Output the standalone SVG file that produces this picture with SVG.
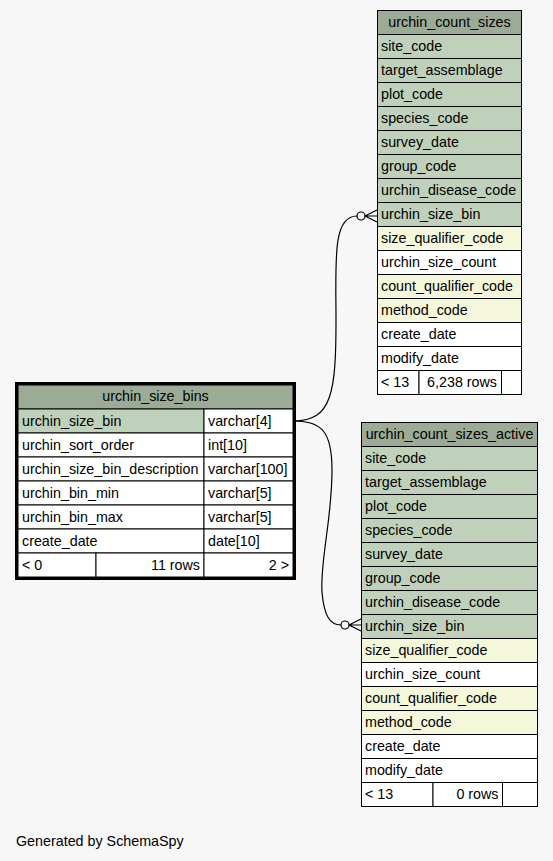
<svg xmlns="http://www.w3.org/2000/svg" width="553" height="861" viewBox="0 0 553 861">
<style>
text{font-family:"Liberation Sans",Arial,Helvetica,sans-serif;font-size:14.3px;fill:#000}
.c{stroke:#000;stroke-width:1}
.h{fill:#9bab96}
.k{fill:#bfd1bb}
.y{fill:#f4f7da}
.w{fill:#ffffff}
.m{text-anchor:middle}
.r{text-anchor:end}
.e{fill:none;stroke:#000;stroke-width:1.2}
</style>
<rect x="0" y="0" width="553" height="861" fill="#f7f7f7"/>
<g id="connectors">
<path class="e" d="M294,421 C332,421 336,392 336,320 C336,262 332,216 357,216"/>
<circle class="e" cx="361" cy="216" r="4" fill="#fff"/>
<path class="e" d="M365,216 L377,210 M365,216 L377,216 M365,216 L377,222"/>
<path class="e" d="M294,421 C322,421 332,432 332,470 C332,520 320,560 322,592 C324,616 330,625 341,625"/>
<circle class="e" cx="345" cy="625" r="4" fill="#fff"/>
<path class="e" d="M349,625 L361,619 M349,625 L361,625 M349,625 L361,631"/>
</g>
<g id="urchin_count_sizes">
<rect class="c h" x="377.5" y="10.5" width="144" height="24"/>
<text class="m" x="449.5" y="27">urchin_count_sizes</text>
<rect class="c k" x="377.5" y="34.5" width="144" height="24"/><text x="381" y="51">site_code</text>
<rect class="c k" x="377.5" y="58.5" width="144" height="24"/><text x="381" y="75">target_assemblage</text>
<rect class="c k" x="377.5" y="82.5" width="144" height="24"/><text x="381" y="99">plot_code</text>
<rect class="c k" x="377.5" y="106.5" width="144" height="24"/><text x="381" y="123">species_code</text>
<rect class="c k" x="377.5" y="130.5" width="144" height="24"/><text x="381" y="147">survey_date</text>
<rect class="c k" x="377.5" y="154.5" width="144" height="24"/><text x="381" y="171">group_code</text>
<rect class="c k" x="377.5" y="178.5" width="144" height="24"/><text x="381" y="195">urchin_disease_code</text>
<rect class="c k" x="377.5" y="202.5" width="144" height="24"/><text x="381" y="219">urchin_size_bin</text>
<rect class="c y" x="377.5" y="226.5" width="144" height="24"/><text x="381" y="243">size_qualifier_code</text>
<rect class="c w" x="377.5" y="250.5" width="144" height="24"/><text x="381" y="267">urchin_size_count</text>
<rect class="c y" x="377.5" y="274.5" width="144" height="24"/><text x="381" y="291">count_qualifier_code</text>
<rect class="c y" x="377.5" y="298.5" width="144" height="24"/><text x="381" y="315">method_code</text>
<rect class="c w" x="377.5" y="322.5" width="144" height="24"/><text x="381" y="339">create_date</text>
<rect class="c w" x="377.5" y="346.5" width="144" height="24"/><text x="381" y="363">modify_date</text>
<rect class="c w" x="377.5" y="370.5" width="41.5" height="24"/><text x="381" y="387">&lt; 13</text>
<rect class="c w" x="419" y="370.5" width="82.5" height="24"/><text class="r" x="497" y="387">6,238 rows</text>
<rect class="c w" x="501.5" y="370.5" width="20" height="24"/>
</g>
<g id="urchin_size_bins">
<rect class="c h" x="18" y="385" width="275" height="24"/>
<text class="m" x="155.5" y="401">urchin_size_bins</text>
<rect class="c k" x="18" y="409" width="186" height="24"/><text x="22" y="425.5">urchin_size_bin</text>
<rect class="c w" x="204" y="409" width="89" height="24"/><text x="208" y="425.5">varchar[4]</text>
<rect class="c w" x="18" y="433" width="186" height="24"/><text x="22" y="449.5">urchin_sort_order</text>
<rect class="c w" x="204" y="433" width="89" height="24"/><text x="208" y="449.5">int[10]</text>
<rect class="c w" x="18" y="457" width="186" height="24"/><text x="22" y="473.5">urchin_size_bin_description</text>
<rect class="c w" x="204" y="457" width="89" height="24"/><text x="208" y="473.5">varchar[100]</text>
<rect class="c w" x="18" y="481" width="186" height="24"/><text x="22" y="497.5">urchin_bin_min</text>
<rect class="c w" x="204" y="481" width="89" height="24"/><text x="208" y="497.5">varchar[5]</text>
<rect class="c w" x="18" y="505" width="186" height="24"/><text x="22" y="521.5">urchin_bin_max</text>
<rect class="c w" x="204" y="505" width="89" height="24"/><text x="208" y="521.5">varchar[5]</text>
<rect class="c w" x="18" y="529" width="186" height="24"/><text x="22" y="545.5">create_date</text>
<rect class="c w" x="204" y="529" width="89" height="24"/><text x="208" y="545.5">date[10]</text>
<rect class="c w" x="18" y="553" width="78" height="24"/><text x="22" y="569.5">&lt; 0</text>
<rect class="c w" x="96" y="553" width="108" height="24"/><text class="r" x="200" y="569.5">11 rows</text>
<rect class="c w" x="204" y="553" width="89" height="24"/><text class="r" x="289" y="569.5">2 &gt;</text>
<rect x="16.5" y="383.5" width="278" height="195" fill="none" stroke="#000" stroke-width="3"/>
</g>
<g id="urchin_count_sizes_active">
<rect class="c h" x="361.5" y="422.5" width="176" height="24"/>
<text class="m" x="449.5" y="439">urchin_count_sizes_active</text>
<rect class="c k" x="361.5" y="446.5" width="176" height="24"/><text x="365" y="463">site_code</text>
<rect class="c k" x="361.5" y="470.5" width="176" height="24"/><text x="365" y="487">target_assemblage</text>
<rect class="c k" x="361.5" y="494.5" width="176" height="24"/><text x="365" y="511">plot_code</text>
<rect class="c k" x="361.5" y="518.5" width="176" height="24"/><text x="365" y="535">species_code</text>
<rect class="c k" x="361.5" y="542.5" width="176" height="24"/><text x="365" y="559">survey_date</text>
<rect class="c k" x="361.5" y="566.5" width="176" height="24"/><text x="365" y="583">group_code</text>
<rect class="c k" x="361.5" y="590.5" width="176" height="24"/><text x="365" y="607">urchin_disease_code</text>
<rect class="c k" x="361.5" y="614.5" width="176" height="24"/><text x="365" y="631">urchin_size_bin</text>
<rect class="c y" x="361.5" y="638.5" width="176" height="24"/><text x="365" y="655">size_qualifier_code</text>
<rect class="c w" x="361.5" y="662.5" width="176" height="24"/><text x="365" y="679">urchin_size_count</text>
<rect class="c y" x="361.5" y="686.5" width="176" height="24"/><text x="365" y="703">count_qualifier_code</text>
<rect class="c y" x="361.5" y="710.5" width="176" height="24"/><text x="365" y="727">method_code</text>
<rect class="c w" x="361.5" y="734.5" width="176" height="24"/><text x="365" y="751">create_date</text>
<rect class="c w" x="361.5" y="758.5" width="176" height="24"/><text x="365" y="775">modify_date</text>
<rect class="c w" x="361.5" y="782.5" width="71.5" height="24"/><text x="365" y="799">&lt; 13</text>
<rect class="c w" x="433" y="782.5" width="69.5" height="24"/><text class="r" x="498.5" y="799">0 rows</text>
<rect class="c w" x="502.5" y="782.5" width="35" height="24"/>
</g>
<text x="16" y="846">Generated by SchemaSpy</text>
</svg>
